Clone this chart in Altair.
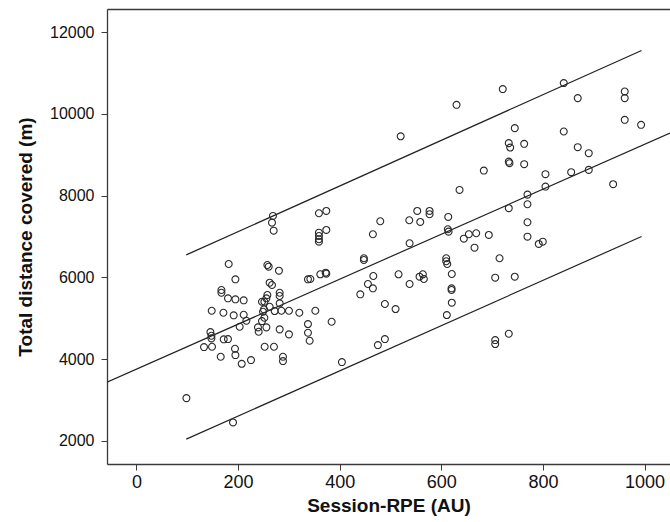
import altair as alt
import pandas as pd

# Session-RPE (AU)
rpe = [181.5, 194.7, 167.2, 167.2, 180.1, 194.7, 211.0, 148.1, 171.1, 191.3,
       211.0, 216.3, 203.1, 145.5, 147.5, 147.5, 132.9, 148.7, 171.7, 180.1,
       165.8, 193.9, 194.7, 207.1, 225.4, 98.3, 190.0, 257.6, 260.2, 280.4,
       262.1, 266.7, 281.8, 281.8, 257.6, 255.7, 281.8, 247.0, 251.7, 262.1,
       250.9, 249.0, 272.0, 285.2, 300.1, 320.5, 251.7, 247.0, 239.1, 240.5,
       255.7, 281.8, 300.1, 252.3, 270.6, 288.3, 288.3, 337.5, 337.5, 337.5,
       340.8, 268.6, 266.7, 270.0, 635.8, 359.1, 373.6, 359.1, 359.1, 359.1,
       359.1, 373.6, 479.8, 465.3, 552.6, 576.8, 576.8, 536.9, 558.5, 613.6,
       612.8, 614.2, 644.2, 654.1, 668.6, 665.3, 537.5, 447.6, 447.6, 342.2,
       361.8, 372.3, 373.6, 609.6, 609.6, 611.6, 620.6, 466.1, 515.8, 455.5,
       465.3, 440.5, 537.5, 557.1, 563.6, 565.6, 620.1, 620.1, 620.6, 352.0,
       384.1, 488.9, 509.9, 610.8, 475.1, 488.9, 404.3, 720.9, 840.9, 868.4,
       960.9, 960.9, 960.9, 993.1, 744.5, 840.9, 732.7, 735.5, 763.0, 868.4,
       890.1, 732.7, 734.1, 763.0, 683.6, 804.9, 855.5, 890.1, 804.9, 938.1,
       769.5, 732.7, 769.5, 769.5, 769.5, 693.4, 714.5, 706.0, 744.5, 791.7,
       799.6, 629.9, 706.0, 706.0, 732.7, 520.0]

# Total distance covered (m)
distance = [6328, 5953, 5691, 5625, 5488, 5464, 5439, 5185, 5136, 5072,
            5087, 4940, 4793, 4663, 4573, 4509, 4296, 4304, 4485, 4492,
            4059, 4255, 4100, 3887, 3978, 3048, 2453, 6303, 6262, 6164,
            5870, 5814, 5625, 5545, 5569, 5488, 5366, 5405, 5405, 5283,
            5219, 5160, 5177, 5185, 5185, 5136, 5013, 4932, 4778, 4671,
            4778, 4729, 4607, 4304, 4304, 4059, 3953, 5953, 4859, 4646,
            4450, 7503, 7339, 7143, 8139, 7569, 7625, 7094, 7013, 6933,
            6874, 7160, 7373, 7055, 7625, 7625, 7545, 7398, 7356, 7479,
            7177, 7119, 6947, 7055, 7079, 6727, 6835, 6468, 6426, 5961,
            6076, 6115, 6091, 6468, 6394, 6328, 6083, 6034, 6076, 5838,
            5733, 5586, 5838, 6017, 6076, 5961, 5733, 5692, 5381, 5185,
            4915, 5349, 5226, 5079, 4345, 4492, 3929, 10605, 10752, 10384,
            10546, 10384, 9853, 9731, 9650, 9567, 9283, 9175, 9266, 9185,
            9038, 8832, 8793, 8769, 8612, 8524, 8573, 8629, 8220, 8279,
            8024, 7692, 7789, 7349, 6996, 7038, 6468, 5993, 6017, 6818,
            6874, 10220, 4467, 4370, 4622, 9450]

# fitted regression line and 95% prediction limits (end points)
fit_x = [-58, 1050]
fit_y = [3437, 9531]
upper_x = [98, 994]
upper_y = [6550, 11550]
lower_x = [98, 994]
lower_y = [2045, 7000]

x_domain = [-58, 1050]
y_domain = [1437, 12563]
x_ticks = [0, 200, 400, 600, 800, 1000]
y_ticks = [2000, 4000, 6000, 8000, 10000, 12000]

points = pd.DataFrame({"rpe": rpe, "dist": distance})
lines = pd.DataFrame({
    "rpe": fit_x + upper_x + lower_x,
    "dist": fit_y + upper_y + lower_y,
    "line": ["fit"] * 2 + ["upper"] * 2 + ["lower"] * 2,
})

FONT = "Liberation Sans"

xscale = alt.Scale(domain=x_domain, nice=False, zero=False)
yscale = alt.Scale(domain=y_domain, nice=False, zero=False)

pts = alt.Chart(points).mark_point(
    shape="circle", filled=False, size=48, stroke="#2a2a2a", strokeWidth=1.1, opacity=1
).encode(
    x=alt.X("rpe:Q", scale=xscale, title="Session-RPE (AU)",
            axis=alt.Axis(values=x_ticks, format="d", grid=False, tickSize=6, labelFontSize=18,
                          labelPadding=3, titleFontSize=19, titleFontWeight="bold",
                          titlePadding=5, labelFont=FONT, titleFont=FONT,
                          domainColor="#3a3a3a", tickColor="#3a3a3a",
                          labelColor="#111", titleColor="#111", domainWidth=1.3)),
    y=alt.Y("dist:Q", scale=yscale, title="Total distance covered (m)",
            axis=alt.Axis(values=y_ticks, format="d", grid=False, tickSize=6, labelFontSize=16,
                          labelPadding=7, titleFontSize=19, titleFontWeight="bold",
                          titlePadding=14, labelFont=FONT, titleFont=FONT,
                          domainColor="#3a3a3a", tickColor="#3a3a3a",
                          labelColor="#111", titleColor="#111", domainWidth=1.3)),
)

lns = alt.Chart(lines).mark_line(color="#222", strokeWidth=1.2, clip=True).encode(
    x=alt.X("rpe:Q", scale=xscale,
            axis=alt.Axis(orient="top", labels=False, ticks=False, title=None, grid=False,
                          domainColor="#3a3a3a", domainWidth=1.3)),
    y=alt.Y("dist:Q", scale=yscale),
    detail="line:N",
)

chart = alt.layer(lns, pts).resolve_axis(x="independent").properties(
    width=563, height=455,
    autosize=alt.AutoSizeParams(type="none"),
    padding={"left": 107, "top": 9, "right": 0, "bottom": 58},
).configure_view(stroke=None).configure(background="white")

chart.save("out.html", embed_options={"renderer": "svg", "actions": False})
